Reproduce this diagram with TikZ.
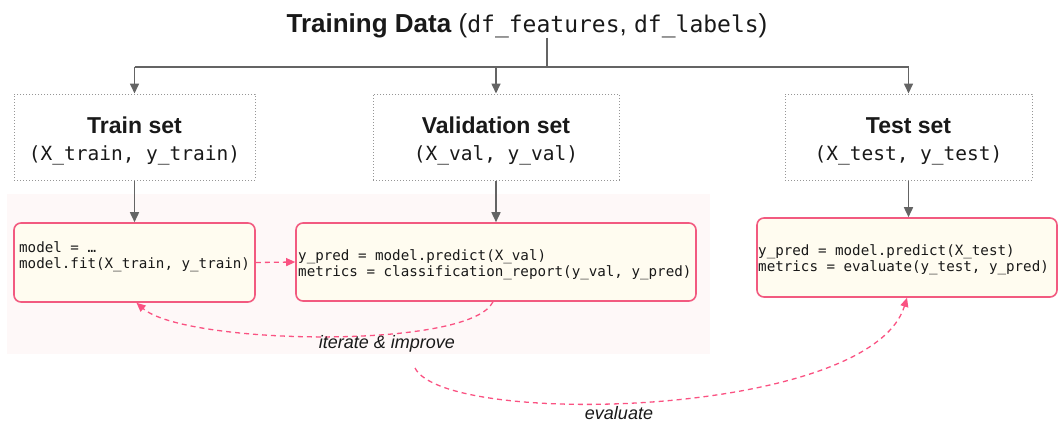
\documentclass[tikz,border=0pt]{standalone}
\usepackage{fontspec}
\setmainfont{Liberation Sans}
\setmonofont{DejaVu Sans Mono}
\usetikzlibrary{arrows.meta}

\definecolor{linegrey}{RGB}{100,100,100}
\definecolor{dotgrey}{RGB}{150,150,150}
\definecolor{boxpink}{RGB}{242,90,128}
\definecolor{dashpink}{RGB}{250,82,130}
\definecolor{codefill}{RGB}{255,252,240}
\definecolor{loopfill}{RGB}{254,248,248}
\definecolor{ink}{RGB}{25,25,25}

% two-line caption of a data split: bold name, then the variable pair
\newcommand{\splitname}[2]{{\bfseries #1}\\
  {\fontsize{19.5}{27}\selectfont\ttfamily #2}}

\begin{document}
\begin{tikzpicture}[x=1pt,y=-1pt,
  every node/.style={text=ink},
  setbox/.style={draw=dotgrey, line width=1pt, dash pattern=on 1pt off 2pt,
    minimum width=241pt, minimum height=86pt, inner sep=0pt},
  settext/.style={align=center, font=\fontsize{23}{27}\selectfont,
    anchor=base, inner sep=0pt},
  codebox/.style={draw=boxpink, fill=codefill, line width=1.6pt,
    rounded corners=7pt, minimum height=79pt, inner sep=0pt},
  codetext/.style={anchor=base west, inner sep=0pt,
    font=\fontsize{14.2}{16}\selectfont\ttfamily},
  gline/.style={draw=linegrey, line width=1.6pt},
  garrow/.style={gline, -{Triangle[length=10pt,width=9pt]}},
  parrow/.style={draw=dashpink, line width=1.3pt, dash pattern=on 5pt off 4pt,
    -{Triangle[length=9pt,width=8pt]}},
  looplabel/.style={anchor=base, inner sep=0pt,
    font=\fontsize{18}{20}\selectfont\itshape}
]
\useasboundingbox (0,0) rectangle (1059,424);

% shaded area behind the train/validate loop
\fill[loopfill] (7,194) rectangle (710,354);

% title
\node[anchor=base, inner sep=0pt] (title) at (527,32)
  {\fontsize{26}{30}\selectfont\textbf{Training Data}
   ({\fontsize{23}{30}\selectfont\ttfamily df\_features}, {\fontsize{23}{30}\selectfont\ttfamily df\_labels})};

% data splits (dotted frames)
\node[setbox] (train) at (134.5,137) {};
\node[setbox, minimum width=246pt] (val) at (496,137) {};
\node[setbox, minimum width=247pt] (test) at (908.5,137) {};

% captions; the base anchor sits on the second line
\node[settext] (traintxt) at (134.5,160) {\splitname{Train set}{(X\_train, y\_train)}};
\node[settext] (valtxt) at (496,160) {\splitname{Validation set}{(X\_val, y\_val)}};
\node[settext] (testtxt) at (908.5,160) {\splitname{Test set}{(X\_test, y\_test)}};

% code boxes
\node[codebox, minimum width=241pt] (trcode) at (134.5,262.5) {};
\node[codebox, minimum width=400pt, minimum height=78pt] (vacode) at (496,262) {};
\node[codebox, minimum width=300pt] (tecode) at (907,257.5) {};

\node[codetext] (trtext) at (19,252)
  {\begin{tabular}[t]{@{}l@{}}model = …\\model.fit(X\_train, y\_train)\end{tabular}};
\node[codetext] (vatext) at (298,260)
  {\begin{tabular}[t]{@{}l@{}}y\_pred = model.predict(X\_val)\\metrics = classification\_report(y\_val, y\_pred)\end{tabular}};
\node[codetext] (tetext) at (758,255)
  {\begin{tabular}[t]{@{}l@{}}y\_pred = model.predict(X\_test)\\metrics = evaluate(y\_test, y\_pred)\end{tabular}};

% splitting connectors
\coordinate (split) at (547,67);
\draw[gline] (title.south -| split) -- (split);
\draw[gline] (train.north |- split) -- (test.north |- split);
\draw[garrow] (train.north |- split) -- (train.north);
\draw[garrow] (val.north |- split) -- (val.north);
\draw[garrow] (test.north |- split) -- (test.north);

\draw[garrow] (train.south) -- (trcode.north);
\draw[garrow] (val.south) -- (vacode.north);
\draw[garrow] (test.south) -- (test.south |- tecode.north);

% model loop
\draw[parrow] (trcode.east) -- (vacode.west);
\draw[parrow] ([xshift=-3pt]vacode.south) .. controls (470,350) and (185,345) .. ([xshift=2pt]trcode.south);
\node[looplabel] (iter) at (387,348) {iterate \& improve};

% final evaluation
\coordinate (evstart) at (415,368);
\draw[parrow] (evstart) .. controls (445,428) and (870,418) .. (tecode.south);
\node[looplabel] (eval) at (619,419) {evaluate};
\end{tikzpicture}
\end{document}
